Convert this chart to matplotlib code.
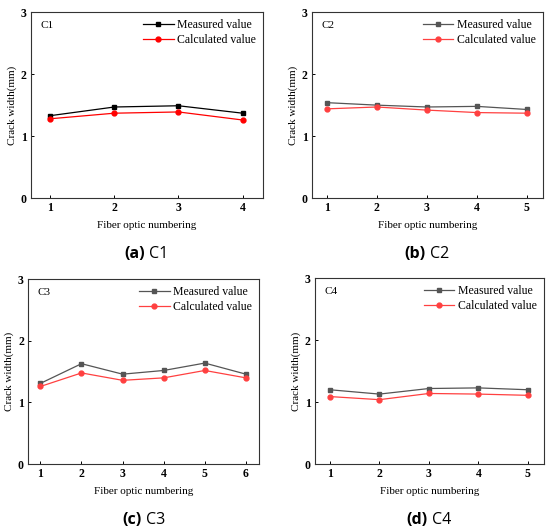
import matplotlib.pyplot as plt
import numpy as np

# fiber optic numbering for each specimen
x_c1 = [1, 2, 3, 4]
x_c2 = [1, 2, 3, 4, 5]
x_c3 = [1, 2, 3, 4, 5, 6]
x_c4 = [1, 2, 3, 4, 5]

# crack width (mm)
meas_c1 = [1.33, 1.47, 1.49, 1.37]
calc_c1 = [1.28, 1.37, 1.39, 1.26]
meas_c2 = [1.54, 1.50, 1.47, 1.48, 1.43]
calc_c2 = [1.44, 1.47, 1.42, 1.38, 1.37]
meas_c3 = [1.31, 1.63, 1.46, 1.52, 1.64, 1.46]
calc_c3 = [1.26, 1.48, 1.36, 1.40, 1.52, 1.40]
meas_c4 = [1.20, 1.13, 1.22, 1.23, 1.20]
calc_c4 = [1.09, 1.04, 1.14, 1.13, 1.11]

names = ['C1', 'C2', 'C3', 'C4']
captions = ['(a)', '(b)', '(c)', '(d)']

plt.rcParams['font.family'] = ['Liberation Serif', 'DejaVu Serif']

fig = plt.figure(figsize=(5.5, 5.31), dpi=100)

# axes boxes in figure fractions
boxes = [
    [0.0564, 0.627, 0.422, 0.350],
    [0.567, 0.627, 0.420, 0.350],
    [0.051, 0.126, 0.420, 0.348],
    [0.5727, 0.126, 0.416, 0.350],
]
xs = [x_c1, x_c2, x_c3, x_c4]
meas = [meas_c1, meas_c2, meas_c3, meas_c4]
calc = [calc_c1, calc_c2, calc_c3, calc_c4]

for i in range(4):
    ax = fig.add_axes(boxes[i])
    if i == 0:
        mcol = 'black'
        ccol = '#ff0000'
    else:
        mcol = '#555555'
        ccol = '#ff4040'
    ax.plot(xs[i], meas[i], color=mcol, marker='s', markersize=3.3, lw=0.9,
            label='Measured value')
    ax.plot(xs[i], calc[i], color=ccol, marker='o', markersize=3.5, lw=0.9,
            label='Calculated value')
    ax.set_xlim(0.7, len(xs[i]) + 0.32)
    ax.set_ylim(0, 3)
    ax.set_xticks(xs[i])
    ax.set_yticks([0, 1, 2, 3])
    ax.tick_params(direction='in', length=2.5, width=0.7, labelsize=8.5, pad=3)
    for lab in ax.get_xticklabels() + ax.get_yticklabels():
        lab.set_fontweight('bold')
    for sp in ax.spines.values():
        sp.set_linewidth(0.8)
        sp.set_color('#333333')
    ax.set_xlabel('Fiber optic numbering', fontsize=8, labelpad=5)
    ax.set_ylabel('Crack width(mm)', fontsize=8, labelpad=3)
    ax.text(0.04, 0.93, names[i], transform=ax.transAxes, fontsize=8,
            va='center', ha='left')
    ax.legend(loc='upper right', frameon=False, fontsize=8.5, handlelength=2.6,
              borderaxespad=0.2, labelspacing=0.25, handletextpad=0.3)
    # sub-figure caption
    cx = boxes[i][0] + boxes[i][2] / 2
    cy = boxes[i][1] - 0.105
    fig.text(cx - 0.004, cy, captions[i], fontsize=11.5, fontweight='bold',
             ha='right', va='center', family=['Open Sans', 'DejaVu Sans'])
    fig.text(cx + 0.004, cy, names[i], fontsize=11.5, ha='left', va='center',
             family=['Open Sans', 'DejaVu Sans'])

fig.savefig('out.png', dpi=100)
